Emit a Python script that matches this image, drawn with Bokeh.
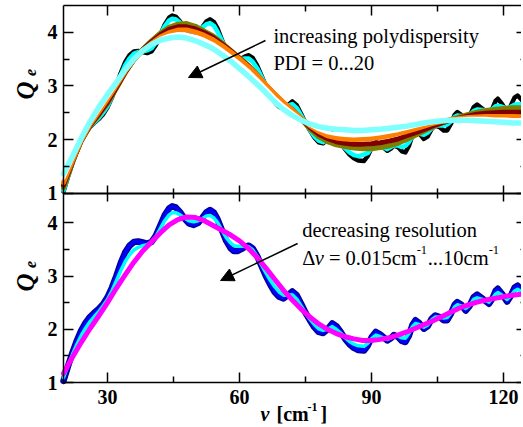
from math import pi
from bokeh.plotting import figure
from bokeh.models import (Range1d, LinearAxis, FixedTicker, Label, Arrow,
                          NormalHead, CustomJSTickFormatter)
from bokeh.embed import file_html
from bokeh.resources import INLINE

# ---------------- data ----------------
x_fine = [20, 21, 22, 23, 24, 25, 26, 27, 28, 29,
          30, 31, 32, 33, 34, 35, 36, 37, 38, 39,
          40, 41, 42, 43, 44, 44.7, 45.5, 46.5, 47.5, 48.5,
          49.6, 50.6, 51.6, 52.5, 53.3, 54.2, 55, 56, 57, 58,
          58.7, 59.5, 60.5, 61.3, 62.1, 63, 64, 65, 66, 67,
          68, 69, 70, 71, 72, 73, 74, 75, 76, 77,
          78, 79, 80, 81.1, 82, 83, 84, 85, 86, 87,
          88.3, 89.2, 90.1, 91, 92, 93.6, 94.4, 95.1, 96, 96.9,
          97.7, 98.5, 99.3, 100, 100.8, 101.9, 102.8, 103.7, 104.5, 105.5,
          106.4, 107.2, 108.1, 108.9, 109.5, 110.4, 111.4, 112.3, 113.2, 114,
          115.3, 116.7, 117.5, 118.2, 118.7, 119.7, 120.8, 121.6, 122.5, 123.2,
          124, 125]

# monodisperse / highest resolution (black top, navy+blue bottom)
q_mono = [1.03, 1.30, 1.55, 1.78, 1.97, 2.12, 2.23, 2.31, 2.38, 2.47,
          2.60, 2.78, 3.00, 3.24, 3.44, 3.57, 3.64, 3.65, 3.63, 3.61,
          3.64, 3.76, 3.95, 4.14, 4.27, 4.31, 4.29, 4.20, 4.08, 3.99,
          3.96, 4.00, 4.10, 4.20, 4.24, 4.19, 4.07, 3.86, 3.66, 3.52,
          3.47, 3.47, 3.51, 3.55, 3.57, 3.52, 3.38, 3.19, 3.00, 2.84,
          2.70, 2.61, 2.58, 2.64, 2.71, 2.64, 2.48, 2.31, 2.17, 2.04,
          1.95, 1.93, 2.00, 2.11, 2.06, 1.95, 1.82, 1.72, 1.65, 1.61,
          1.60, 1.70, 1.86, 1.95, 1.90, 1.79, 1.83, 1.89, 1.86, 1.78,
          1.76, 1.88, 2.08, 2.17, 2.12, 2.01, 2.06, 2.20, 2.26, 2.23,
          2.17, 2.17, 2.30, 2.46, 2.51, 2.46, 2.35, 2.44, 2.60, 2.65,
          2.57, 2.48, 2.58, 2.72, 2.76, 2.66, 2.52, 2.62, 2.78, 2.82,
          2.75, 2.66]

# small polydispersity (cyan, top panel)
q_pdi_low = [1.05, 1.31, 1.56, 1.78, 1.97, 2.12, 2.24, 2.32, 2.40, 2.50,
             2.62, 2.79, 2.98, 3.20, 3.38, 3.51, 3.60, 3.63, 3.64, 3.66,
             3.70, 3.81, 3.96, 4.11, 4.22, 4.25, 4.24, 4.18, 4.10, 4.04,
             4.01, 4.03, 4.09, 4.15, 4.17, 4.12, 4.01, 3.84, 3.68, 3.56,
             3.51, 3.50, 3.50, 3.51, 3.51, 3.45, 3.33, 3.17, 3.00, 2.86,
             2.74, 2.65, 2.61, 2.63, 2.66, 2.59, 2.45, 2.30, 2.18, 2.06,
             1.98, 1.95, 1.99, 2.05, 2.01, 1.93, 1.84, 1.76, 1.71, 1.69,
             1.72, 1.75, 1.85, 1.90, 1.88, 1.82, 1.86, 1.89, 1.89, 1.86,
             1.88, 1.95, 2.06, 2.12, 2.11, 2.09, 2.13, 2.21, 2.26, 2.26,
             2.26, 2.28, 2.34, 2.42, 2.45, 2.44, 2.42, 2.46, 2.53, 2.56,
             2.55, 2.53, 2.57, 2.62, 2.63, 2.61, 2.58, 2.61, 2.65, 2.66,
             2.65, 2.63]

# medium resolution (cyan, bottom panel)
q_res_mid = [1.09, 1.31, 1.52, 1.71, 1.88, 2.02, 2.14, 2.24, 2.33, 2.44,
             2.56, 2.72, 2.91, 3.10, 3.27, 3.40, 3.49, 3.54, 3.57, 3.59,
             3.64, 3.74, 3.89, 4.04, 4.15, 4.19, 4.19, 4.15, 4.09, 4.04,
             4.02, 4.04, 4.08, 4.13, 4.14, 4.09, 4.01, 3.86, 3.72, 3.62,
             3.57, 3.56, 3.56, 3.56, 3.55, 3.49, 3.37, 3.21, 3.06, 2.92,
             2.80, 2.70, 2.64, 2.64, 2.65, 2.57, 2.44, 2.31, 2.19, 2.09,
             2.01, 1.98, 2.00, 2.05, 2.00, 1.93, 1.84, 1.77, 1.72, 1.69,
             1.68, 1.74, 1.83, 1.89, 1.86, 1.81, 1.84, 1.88, 1.87, 1.84,
             1.83, 1.92, 2.05, 2.11, 2.09, 2.04, 2.08, 2.18, 2.23, 2.23,
             2.21, 2.22, 2.31, 2.42, 2.46, 2.44, 2.39, 2.45, 2.56, 2.59,
             2.56, 2.51, 2.58, 2.66, 2.69, 2.64, 2.56, 2.62, 2.72, 2.75,
             2.71, 2.66]

x_coarse = [20, 22, 24, 26, 28, 30, 32, 34, 36, 38,
            40, 42, 44, 46, 48, 50, 52, 54, 56, 58,
            60, 62, 64, 66, 68, 70, 72, 74, 76, 78,
            80, 82, 84, 86, 88, 90, 92, 94, 96, 98,
            100, 102, 104, 106, 108, 110, 112, 114, 116, 118,
            120, 122, 124]

q_pdi_olive = [1.10, 1.57, 1.97, 2.25, 2.45, 2.67, 2.95, 3.24, 3.49, 3.68,
               3.84, 3.98, 4.09, 4.15, 4.16, 4.11, 4.02, 3.93, 3.80, 3.66,
               3.52, 3.38, 3.21, 3.01, 2.83, 2.68, 2.56, 2.38, 2.20, 2.05,
               1.96, 1.90, 1.87, 1.84, 1.83, 1.83, 1.85, 1.88, 1.93, 2.00,
               2.08, 2.16, 2.24, 2.31, 2.37, 2.42, 2.47, 2.51, 2.54, 2.56,
               2.58, 2.59, 2.59]

q_pdi_maroon = [1.15, 1.58, 1.97, 2.26, 2.47, 2.70, 2.97, 3.25, 3.49, 3.67,
                3.82, 3.95, 4.05, 4.10, 4.10, 4.06, 3.99, 3.90, 3.78, 3.65,
                3.51, 3.37, 3.20, 3.01, 2.84, 2.68, 2.55, 2.39, 2.23, 2.10,
                2.02, 1.96, 1.93, 1.91, 1.91, 1.92, 1.94, 1.97, 2.01, 2.07,
                2.13, 2.19, 2.26, 2.31, 2.36, 2.40, 2.44, 2.47, 2.49, 2.50,
                2.51, 2.51, 2.51]

q_pdi_orange = [1.20, 1.60, 1.98, 2.28, 2.51, 2.75, 3.01, 3.27, 3.49, 3.65,
                3.79, 3.91, 3.99, 4.04, 4.04, 4.00, 3.94, 3.86, 3.75, 3.63,
                3.50, 3.36, 3.20, 3.02, 2.85, 2.69, 2.55, 2.40, 2.26, 2.15,
                2.07, 2.03, 2.01, 2.00, 2.01, 2.02, 2.04, 2.07, 2.11, 2.15,
                2.20, 2.25, 2.30, 2.34, 2.37, 2.39, 2.41, 2.42, 2.43, 2.43,
                2.43, 2.43, 2.42]

q_pdi_white = [1.28, 1.64, 2.00, 2.30, 2.55, 2.79, 3.03, 3.28, 3.49, 3.65,
               3.78, 3.88, 3.94, 3.97, 3.96, 3.92, 3.86, 3.78, 3.67, 3.55,
               3.42, 3.28, 3.12, 2.95, 2.78, 2.63, 2.50, 2.38, 2.27, 2.19,
               2.13, 2.10, 2.08, 2.07, 2.08, 2.09, 2.11, 2.14, 2.17, 2.21,
               2.25, 2.29, 2.32, 2.35, 2.37, 2.38, 2.39, 2.39, 2.39, 2.38,
               2.38, 2.37, 2.37]

q_pdi_max = [1.36, 1.68, 2.02, 2.33, 2.60, 2.84, 3.06, 3.30, 3.50, 3.66,
             3.77, 3.85, 3.89, 3.91, 3.89, 3.84, 3.77, 3.69, 3.58, 3.46,
             3.32, 3.18, 3.03, 2.87, 2.70, 2.56, 2.45, 2.36, 2.29, 2.24,
             2.21, 2.19, 2.18, 2.17, 2.17, 2.18, 2.19, 2.21, 2.23, 2.25,
             2.28, 2.31, 2.33, 2.35, 2.36, 2.36, 2.36, 2.35, 2.34, 2.33,
             2.32, 2.31, 2.31]

q_res_low = [1.17, 1.47, 1.75, 2.01, 2.25, 2.50, 2.77, 3.02, 3.26, 3.47,
             3.64, 3.81, 3.96, 4.06, 4.11, 4.10, 4.04, 3.95, 3.86, 3.77,
             3.66, 3.52, 3.35, 3.15, 2.94, 2.73, 2.55, 2.38, 2.23, 2.10,
             2.00, 1.92, 1.86, 1.82, 1.79, 1.79, 1.81, 1.84, 1.89, 1.95,
             2.02, 2.09, 2.16, 2.24, 2.32, 2.40, 2.46, 2.51, 2.55, 2.58,
             2.61, 2.64, 2.66]

x_major = [30, 60, 90, 120]
x_minor = [45, 75, 105]
y_major = [1, 2, 3, 4]
y_minor = [1.5, 2.5, 3.5]

# ---------------- geometry (pixels of the canvas) ----------------
W, H = 521, 426
PX_X = 4.4            # px per cm-1
X20_PX = 63           # where nu = 20 sits
BOT_PX_Y, BOT_Y1 = 53.23, 382.0   # bottom panel scale, pixel row of Q=1
TOP_PX_Y, TOP_Y1 = 53.67, 192.7   # top panel scale, pixel row of Q=1

x_start = 20 - X20_PX / PX_X
x_end = x_start + W / PX_X
b_start = 1 - (H - BOT_Y1) / BOT_PX_Y
t_start = 1 - (H - TOP_Y1) / TOP_PX_Y

SERIF = "Liberation Serif"

p = figure(width=W, height=H, output_backend="svg", toolbar_location=None,
           x_axis_type=None, y_axis_type=None,
           x_range=Range1d(x_start, x_end),
           y_range=Range1d(b_start, b_start + H / BOT_PX_Y),
           min_border_left=0, min_border_right=0, min_border_top=0,
           min_border_bottom=0)
p.extra_y_ranges = {"top": Range1d(t_start, t_start + H / TOP_PX_Y)}
p.grid.visible = False
p.outline_line_color = None
p.background_fill_color = "white"
p.border_fill_color = "white"

blank = CustomJSTickFormatter(code="return ''")
xt = FixedTicker(ticks=x_major, minor_ticks=x_minor)
yt = FixedTicker(ticks=y_major, minor_ticks=y_minor)
X_RIGHT = 125.2   # right frame edge of the original (just outside the picture)


def make_axis(labels, tin=10, tout=0, mtin=6, mtout=0, **kw):
    ax = LinearAxis(**kw)
    ax.major_tick_in = tin
    ax.major_tick_out = tout
    ax.minor_tick_in = mtin
    ax.minor_tick_out = mtout
    ax.axis_line_width = 1.5
    ax.major_tick_line_width = 1.5
    ax.minor_tick_line_width = 1.5
    ax.axis_line_color = "black"
    ax.major_tick_line_color = "black"
    ax.minor_tick_line_color = "black"
    if labels:
        ax.major_label_text_font = SERIF
        ax.major_label_text_font_style = "bold"
        ax.major_label_text_font_size = "20px"
        ax.major_label_text_color = "black"
    else:
        ax.formatter = blank
        ax.major_label_text_font_size = "0px"
        ax.major_label_standoff = 0
    return ax


# x axes: bottom (labelled), middle separator, top edge
bottom_ax = make_axis(True, ticker=xt, fixed_location=1.0, bounds=(20, 126))
bottom_ax.major_label_standoff = 7
p.add_layout(bottom_ax, "below")

mid_ax = make_axis(False, tin=8, tout=8, mtin=5, mtout=5, ticker=xt,
                   fixed_location=1.0, y_range_name="top", bounds=(20, 126))
mid_ax.axis_line_width = 2
p.add_layout(mid_ax, "below")

top_ax = make_axis(False, ticker=xt, fixed_location=4.5, y_range_name="top",
                   bounds=(20, 126))
p.add_layout(top_ax, "above")

# y axes for both panels, left (labelled) and right
for rng, upper in [("default", 4.55), ("top", 4.5)]:
    la = make_axis(True, ticker=yt, fixed_location=20, y_range_name=rng,
                   bounds=(1, upper))
    la.major_label_standoff = 6
    p.add_layout(la, "left")
    ra = make_axis(False, ticker=yt, fixed_location=X_RIGHT, y_range_name=rng,
                   bounds=(1, upper))
    p.add_layout(ra, "right")

# ---------------- top panel: polydispersity ----------------
top_kw = dict(y_range_name="top", line_join="round", line_cap="round")
p.line(x_fine, q_mono, line_color="black", line_width=4.5, **top_kw)
p.line(x_fine, q_pdi_low, line_color="#00FFFF", line_width=4.5, **top_kw)
p.line(x_coarse, q_pdi_olive, line_color="#808000", line_width=5, **top_kw)
p.line(x_coarse, q_pdi_maroon, line_color="#800000", line_width=5, **top_kw)
p.line(x_coarse, q_pdi_orange, line_color="#FF8000", line_width=5, **top_kw)
p.line(x_coarse, q_pdi_white, line_color="white", line_width=3.5, **top_kw)
p.line(x_coarse, q_pdi_max, line_color="#80FFFF", line_width=5.5, **top_kw)

# ---------------- bottom panel: resolution ----------------
bot_kw = dict(line_join="round", line_cap="round")
p.line(x_fine, q_mono, line_color="#000099", line_width=6.5, **bot_kw)
p.line(x_fine, q_mono, line_color="#0000FF", line_width=3.5, **bot_kw)
p.line(x_fine, q_res_mid, line_color="#00FFFF", line_width=3.5, **bot_kw)
p.line(x_coarse, q_res_low, line_color="#FF00FF", line_width=5, **bot_kw)

# ---------------- annotations ----------------
TXT = dict(text_font=SERIF, text_font_size="20.5px", text_color="black",
           text_baseline="alphabetic", text_align="left")
p.add_layout(Label(x=67.7, y=3.92, y_range_name="top",
                   text="increasing polydispersity", **TXT))
p.add_layout(Label(x=67.7, y=3.417, y_range_name="top",
                   text="PDI = 0...20", **TXT))
p.add_layout(Arrow(end=NormalHead(size=13, fill_color="black", line_color="black",
                                  line_width=1),
                   x_start=65.9, y_start=3.845, x_end=48.4, y_end=3.156,
                   y_range_name="top", line_width=1.5, line_color="black"))

p.add_layout(Label(x=74.25, y=3.856, text="decreasing resolution", **TXT))
p.add_layout(Label(x=74.25, y=3.348, text="Δ", **TXT))
p.add_layout(Label(x=74.25, y=3.348, x_offset=12.5, text="ν",
                   text_font_style="italic", **TXT))
p.add_layout(Label(x=74.25, y=3.348, x_offset=26.7, text="= 0.015cm", **TXT))
SUP = dict(TXT, text_font_size="12.5px")
p.add_layout(Label(x=74.25, y=3.348, x_offset=114.5, y_offset=8, text="-1", **SUP))
p.add_layout(Label(x=74.25, y=3.348, x_offset=125.5, text="...10cm", **TXT))
p.add_layout(Label(x=74.25, y=3.348, x_offset=186.5, y_offset=8, text="-1", **SUP))
p.add_layout(Arrow(end=NormalHead(size=13, fill_color="black", line_color="black",
                                  line_width=1),
                   x_start=73.2, y_start=3.611, x_end=55.7, y_end=2.916,
                   line_width=1.5, line_color="black"))

# y-axis titles Q_e (screen px measured from the canvas' left / bottom)
QK = dict(x_units="screen", y_units="screen", angle=pi / 2, text_font=SERIF,
          text_font_style="bold italic", text_color="black",
          text_align="center", text_baseline="alphabetic")
for q_row, e_row in [(90, 72), (282, 264)]:
    p.add_layout(Label(x=25, y=H - q_row, text="Q", text_font_size="25px", **QK))
    p.add_layout(Label(x=30, y=H - e_row, text="e", text_font_size="16px", **QK))

# x-axis title ν [cm-1]
XK = dict(x_units="screen", y_units="screen", text_font=SERIF, text_color="black",
          text_align="left", text_baseline="alphabetic")
BASE = 413
p.add_layout(Label(x=260, y=H - BASE, text="ν", text_font_size="20px",
                   text_font_style="bold italic", **XK))
p.add_layout(Label(x=276, y=H - BASE, text="[cm", text_font_size="20px",
                   text_font_style="bold", **XK))
p.add_layout(Label(x=307, y=H - BASE + 7, text="-1", text_font_size="12px",
                   text_font_style="bold", **XK))
p.add_layout(Label(x=320, y=H - BASE, text="]", text_font_size="20px",
                   text_font_style="bold", **XK))

open("out.html", "w").write(file_html(p, INLINE))
